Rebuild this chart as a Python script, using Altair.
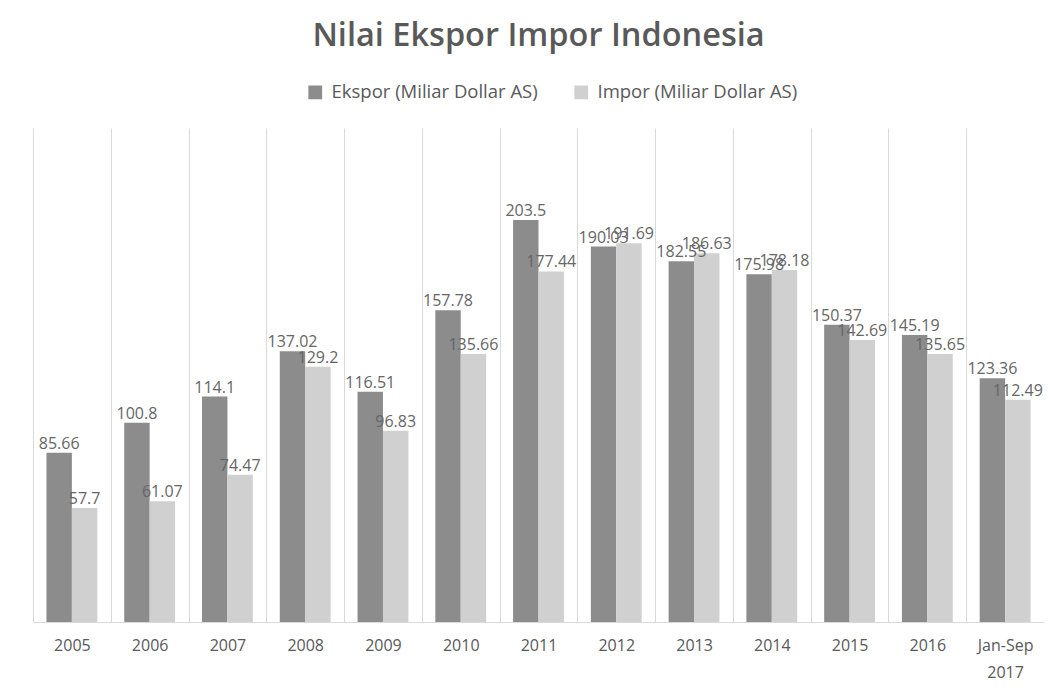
import altair as alt
import pandas as pd

categories = ["2005", "2006", "2007", "2008", "2009", "2010", "2011",
              "2012", "2013", "2014", "2015", "2016", "Jan-Sep 2017"]
ekspor = [85.66, 100.8, 114.1, 137.02, 116.51, 157.78, 203.5,
          190.03, 182.55, 175.98, 150.37, 145.19, 123.36]
impor = [57.7, 61.07, 74.47, 129.2, 96.83, 135.66, 177.44,
         191.69, 186.63, 178.18, 142.69, 135.65, 112.49]
series = ["Ekspor (Miliar Dollar AS)", "Impor (Miliar Dollar AS)"]
colors = ["#8c8c8c", "#d0d0d0"]

rows = []
for c, e, i in zip(categories, ekspor, impor):
    rows.append({"kategori": c, "seri": series[0], "nilai": e})
    rows.append({"kategori": c, "seri": series[1], "nilai": i})
df = pd.DataFrame(rows)
df["label"] = df["nilai"].map(lambda v: f"{v:g}")

FONT = "Open Sans"
TXT = "#595959"

x_enc = alt.X(
    "kategori:N", sort=categories,
    scale=alt.Scale(paddingInner=0, paddingOuter=0),
    axis=alt.Axis(title=None, labelAngle=0, ticks=False, grid=True,
                  tickBand="extent",
                  gridColor={"condition": {"test": "datum.index >= 0.999", "value": "white"},
                             "value": "#d9d9d9"},
                  domainColor="#d9d9d9", labelExpr="split(datum.label, ' ')",
                  labelFontSize=16, labelColor=TXT, labelFont=FONT,
                  labelPadding=15, labelLineHeight=27),
)
xoff = alt.XOffset("seri:N", sort=series,
                   scale=alt.Scale(paddingInner=0, paddingOuter=0.53))
y_enc = alt.Y("nilai:Q", scale=alt.Scale(domain=[0, 250]), axis=None)

bars = alt.Chart(df).mark_bar().encode(
    x=x_enc, xOffset=xoff, y=y_enc,
    color=alt.Color("seri:N", sort=series,
                    scale=alt.Scale(domain=series, range=colors),
                    legend=alt.Legend(title=None, orient="none", direction="horizontal",
                                      legendX=273, legendY=-45,
                                      symbolType="square", symbolSize=190,
                                      symbolStrokeWidth=0, labelLimit=400,
                                      labelFontSize=18.5, labelFont=FONT,
                                      labelColor=TXT, columnPadding=34,
                                      labelOffset=7)),
)

labels = alt.Chart(df).mark_text(
    baseline="bottom", dy=-1, fontSize=16, font=FONT, color="#666666"
).encode(x=x_enc, xOffset=xoff, y=y_enc, text="label:N")

chart = alt.layer(bars, labels).properties(
    width=1011, height=494,
    autosize=alt.AutoSizeParams(type="none"),
    padding={"left": 25, "top": 120, "right": 8, "bottom": 60},
    title=alt.TitleParams("Nilai Ekspor Impor Indonesia", fontSize=32.5,
                          font=FONT, fontWeight=600, color=TXT,
                          anchor="middle", offset=31),
).configure(background="white").configure_view(strokeWidth=0)

chart.save("out.html", embed_options={"renderer": "svg", "actions": False})
